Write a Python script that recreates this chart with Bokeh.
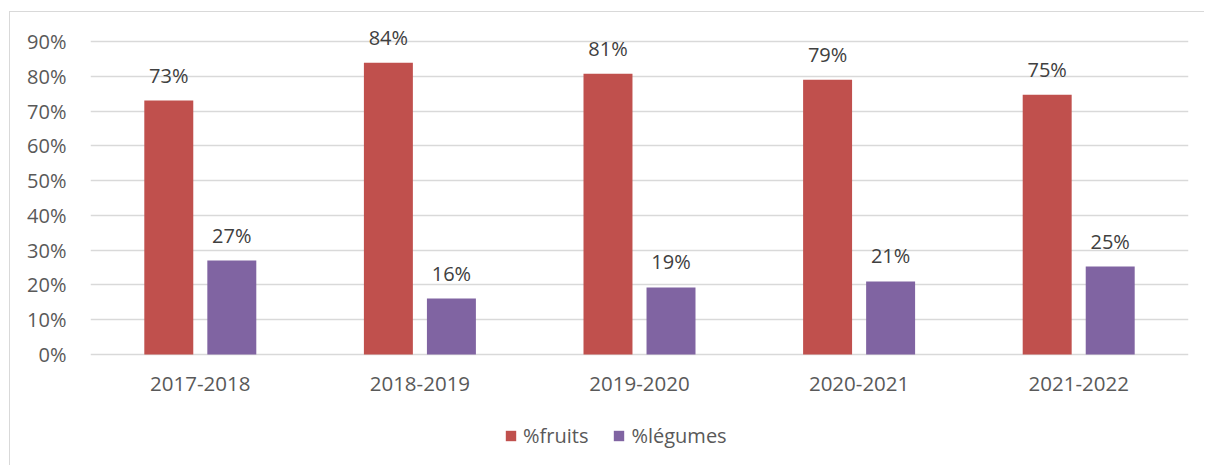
from bokeh.plotting import figure
from bokeh.models import (ColumnDataSource, FactorRange, LabelSet, Legend, LegendItem,
                          NumeralTickFormatter, FixedTicker)
from bokeh.transform import dodge
from bokeh.core.properties import value
from bokeh.embed import file_html
from bokeh.resources import INLINE

years = ["2017-2018", "2018-2019", "2019-2020", "2020-2021", "2021-2022"]
fruits = [0.730, 0.839, 0.807, 0.790, 0.747]
legumes = [0.270, 0.161, 0.193, 0.210, 0.253]
fruit_labels = ["73%", "84%", "81%", "79%", "75%"]
legume_labels = ["27%", "16%", "19%", "21%", "25%"]
y_ticks = [0, 0.1, 0.2, 0.3, 0.4, 0.5, 0.6, 0.7, 0.8, 0.9]

RED = "#C0504D"
PURPLE = "#8064A2"
FONT = "Open Sans"

src = ColumnDataSource(dict(years=years, fruits=fruits, legumes=legumes,
                            fl=fruit_labels, ll=legume_labels,
                            base=[0] * len(years)))

p = figure(x_range=FactorRange(*years, range_padding=0), y_range=(-0.3105, 0.9776),
           width=1195, height=454, output_backend="svg", toolbar_location=None,
           x_axis_location=None,
           min_border_left=80, min_border_right=17, min_border_top=2, min_border_bottom=4)
p.margin = (11, 0, 0, 9)
p.styles = {"border-top": "1px solid #D9D9D9", "border-left": "1px solid #D9D9D9"}
p.outline_line_color = None
p.background_fill_color = "white"
p.border_fill_color = "white"

r1 = p.vbar(x=dodge("years", -0.1435, range=p.x_range), top="fruits", width=0.223,
            source=src, fill_color=RED, line_color=None)
r2 = p.vbar(x=dodge("years", 0.1435, range=p.x_range), top="legumes", width=0.223,
            source=src, fill_color=PURPLE, line_color=None)

for col, lab, off in (("fruits", "fl", -0.1435), ("legumes", "ll", 0.1435)):
    ls = LabelSet(x=dodge("years", off, range=p.x_range), y=col, text=lab, source=src,
                  text_align="center", text_baseline="alphabetic", y_offset=18,
                  text_font=value(FONT), text_font_size="20px", text_color="#404040")
    p.add_layout(ls)

# category labels under the baseline
cat_labels = LabelSet(x="years", y="base", text="years", source=src,
                      text_align="center", text_baseline="alphabetic", y_offset=-36,
                      text_font=value(FONT), text_font_size="20.5px", text_color="#595959")
p.add_layout(cat_labels)

p.yaxis.ticker = FixedTicker(ticks=y_ticks)
p.yaxis.formatter = NumeralTickFormatter(format="0%")
p.yaxis.axis_line_color = None
p.yaxis.major_tick_line_color = None
p.yaxis.minor_tick_line_color = None
p.yaxis.major_label_standoff = 18
p.yaxis.major_label_text_font = FONT
p.yaxis.major_label_text_font_size = "20px"
p.yaxis.major_label_text_color = "#595959"

p.xgrid.grid_line_color = None
p.ygrid.ticker = FixedTicker(ticks=y_ticks)
p.ygrid.grid_line_color = "#D9D9D9"
p.ygrid.grid_line_width = 1.5

legend = Legend(items=[LegendItem(label="%fruits", renderers=[r1]),
                       LegendItem(label="%légumes", renderers=[r2])],
                orientation="horizontal", location=(414, 13),
                glyph_width=13, glyph_height=13, label_standoff=6, spacing=24,
                padding=0, margin=0, border_line_color=None, background_fill_alpha=0,
                label_text_font=FONT, label_text_font_size="20px",
                label_text_color="#595959", label_height=20)
p.add_layout(legend)

open("out.html", "w").write(file_html(p, INLINE))
